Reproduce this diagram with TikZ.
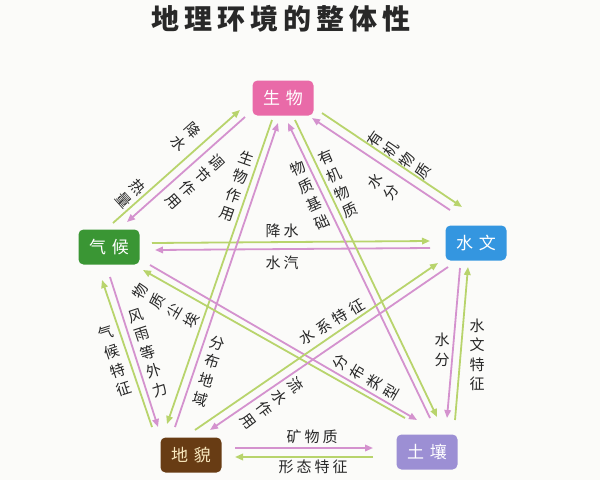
\documentclass[tikz,border=0pt]{standalone}
\usepackage{fontspec}
\setmainfont{Noto Sans CJK SC}
\usetikzlibrary{arrows.meta}
\definecolor{lg}{RGB}{184,212,108}
\definecolor{lp}{RGB}{212,146,206}
\definecolor{cS}{RGB}{233,106,168}
\definecolor{cQ}{RGB}{58,150,52}
\definecolor{cW}{RGB}{52,150,224}
\definecolor{cD}{RGB}{104,60,20}
\definecolor{cT}{RGB}{156,143,212}
\definecolor{bgc}{RGB}{251,251,249}
\definecolor{txt}{RGB}{40,40,40}
\newcommand{\myks}{\hspace{3pt}}
\newcommand{\myws}{\hspace{4.5pt}}
\newcommand{\myts}{\hspace{5pt}}
\begin{document}
\begin{tikzpicture}[x=1pt,y=-1pt,
 box/.style={rounded corners=5pt,minimum width=61pt,minimum height=35pt,inner sep=0pt,text=white,font=\fontsize{17}{20}\selectfont},
 gl/.style={draw=lg,line width=1.8pt,-{Triangle[length=8pt,width=6.5pt]}},
 pl/.style={draw=lp,line width=1.8pt,-{Triangle[length=8pt,width=6.5pt]}},
 vlab/.style={align=center,inner sep=0pt,font=\fontsize{15}{19.5}\selectfont,text=txt},
 hlab/.style={inner sep=0pt,font=\fontsize{15}{18}\selectfont,text=txt},
 ttl/.style={inner sep=0pt,font=\fontsize{28}{30}\selectfont\bfseries,text=txt}]
\fill[bgc] (0,0) rectangle (600,480);
\useasboundingbox (0,0) rectangle (600,480);

\node[ttl] (title) at (281,19) {地\myts 理\myts 环\myts 境\myts 的\myts 整\myts 体\myts 性};

\node[box,fill=cS] (sw) at (283,98) {生\hspace{6pt}物};
\node[box,fill=cQ] (qh) at (109,247) {气\hspace{6pt}候};
\node[box,fill=cW] (sx) at (476,243) {水\hspace{6pt}文};
\node[box,fill=cD,text={rgb,255:red,248;green,232;blue,190}] (dm) at (191,455) {地\hspace{6pt}貌};
\node[box,fill=cT] (tr) at (427,452) {土\hspace{6pt}壤};

% 1 qh - sw
\draw[gl] ([shift={(4,-24)}]qh.center) -- ([shift={(-43,12)}]sw.center);
\draw[pl] ([shift={(-38,19)}]sw.center) -- ([shift={(18,-25)}]qh.center);
% 2 qh - sx
\draw[gl] ([shift={(43,-4)}]qh.center) -- ([shift={(-46,-2)}]sx.center);
\draw[pl] ([shift={(-46,5)}]sx.center) -- ([shift={(46,3)}]qh.center);
% 3 sw - sx
\draw[gl] ([shift={(39,15)}]sw.center) -- ([shift={(-14,-36)}]sx.center);
\draw[pl] ([shift={(-26,-33)}]sx.center) -- ([shift={(29,20)}]sw.center);
% 4 sw - dm
\draw[gl] ([shift={(-11,22)}]sw.center) -- ([shift={(-24,-31)}]dm.center);
\draw[pl] ([shift={(-16,-28)}]dm.center) -- ([shift={(-5,25)}]sw.center);
% 5 sw - tr
\draw[gl] ([shift={(12,22)}]sw.center) -- ([shift={(10,-35)}]tr.center);
\draw[pl] ([shift={(3,-34)}]tr.center) -- ([shift={(5,25)}]sw.center);
% 6 qh - dm
\draw[gl] ([shift={(-39,-28)}]dm.center) -- ([shift={(-7,33)}]qh.center);
\draw[pl] ([shift={(1,30)}]qh.center) -- ([shift={(-33,-28)}]dm.center);
% 7 qh - tr
\draw[gl] ([shift={(-22,-34)}]tr.center) -- ([shift={(34,23)}]qh.center);
\draw[pl] ([shift={(41,18)}]qh.center) -- ([shift={(-10,-32)}]tr.center);
% 8 dm - sx
\draw[gl] ([shift={(4,-25)}]dm.center) -- ([shift={(-38,20)}]sx.center);
\draw[pl] ([shift={(-28,24)}]sx.center) -- ([shift={(19,-25)}]dm.center);
% 9 sx - tr
\draw[pl] ([shift={(-16,25)}]sx.center) -- ([shift={(20,-34)}]tr.center);
\draw[gl] ([shift={(28,-32)}]tr.center) -- ([shift={(-8,24)}]sx.center);
% 10 dm - tr
\draw[pl] ([shift={(44,-7)}]dm.center) -- ([shift={(-54,-4)}]tr.center);
\draw[gl] ([shift={(-54,5)}]tr.center) -- ([shift={(44,2)}]dm.center);

% labels
\node[vlab,rotate=-48] (l1) at (186,137) {降\\水};
\node[vlab,rotate=-48] (l2) at (131,194) {热\\量};
\node[vlab,rotate=-48] (l3) at (195,182) {调\\节\\作\\用};
\node[vlab,rotate=-19] (l4) at (237,186) {生\\物\\作\\用};
\node[vlab,rotate=-17] (l5) at (209,371) {分\\布\\地\\域};
\node[vlab,rotate=24] (l6) at (310,195) {物\\质\\基\\础};
\node[vlab,rotate=24] (l7) at (338,184) {有\\机\\物\\质};
\node[vlab,rotate=56] (l8) at (399,155) {有\\机\\物\\质};
\node[vlab,rotate=56] (l9) at (383,187) {水\\分};
\node[hlab] (l10) at (282,231) {降\myks 水};
\node[hlab] (l11) at (282,263) {水\myks 汽};
\node[vlab,rotate=60] (l12) at (166,306) {物\\质\\尘\\埃};
\node[vlab,rotate=60] (l13) at (366,377) {分\\布\\类\\型};
\node[vlab,rotate=18] (l14) at (148,353) {风\\雨\\等\\外\\力};
\node[vlab,rotate=18] (l15) at (115,361) {气\\候\\特\\征};
\node[hlab,rotate=31] (l16) at (332,322) {水\myws 系\myws 特\myws 征};
\node[vlab,rotate=-53] (l17) at (272,403) {流\\水\\作\\用};
\node[vlab] (l18) at (442,350) {水\\分};
\node[vlab] (l19) at (477,355) {水\\文\\特\\征};
\node[hlab] (l20) at (312,437) {矿\myks 物\myks 质};
\node[hlab] (l21) at (313,467) {形\myks 态\myks 特\myks 征};
\end{tikzpicture}
\end{document}
